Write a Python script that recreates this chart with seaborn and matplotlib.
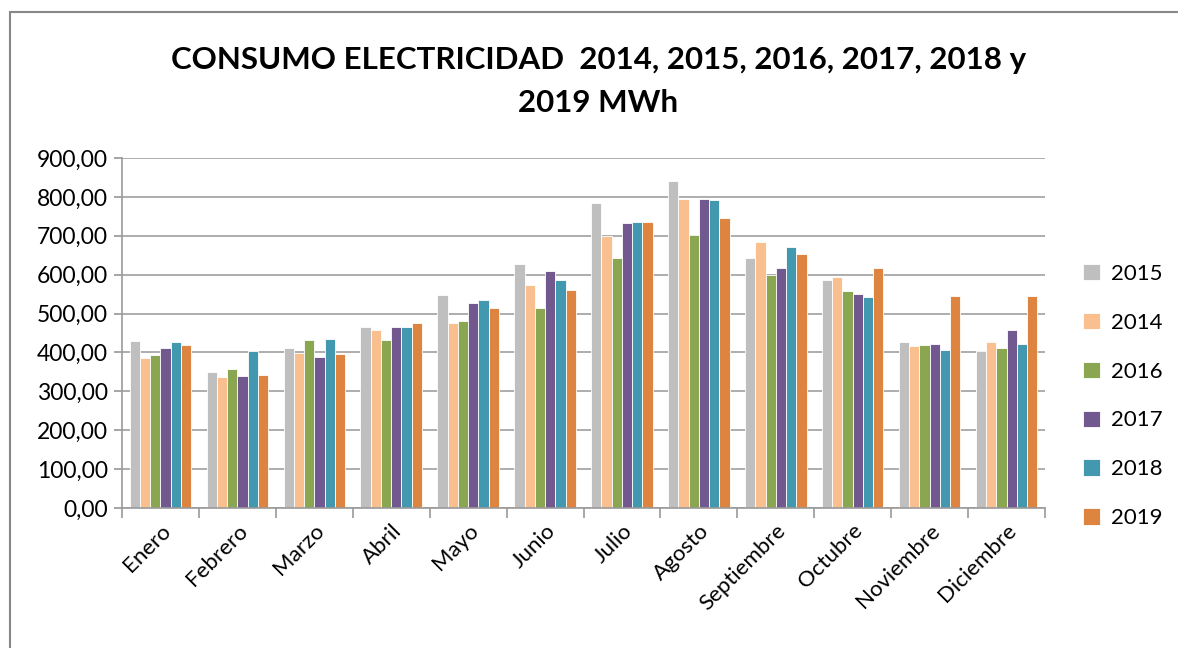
import matplotlib
matplotlib.use("Agg")
import matplotlib.pyplot as plt
import seaborn as sns
import pandas as pd
from matplotlib.ticker import FuncFormatter, FixedLocator
from matplotlib.patches import Rectangle

months = ["Enero", "Febrero", "Marzo", "Abril", "Mayo", "Junio", "Julio",
          "Agosto", "Septiembre", "Octubre", "Noviembre", "Diciembre"]
years = ["2015", "2014", "2016", "2017", "2018", "2019"]
v2015 = [428.6, 349.7, 412.3, 465.4, 547.7, 627.4, 785.1, 840.8, 643.7, 587.1, 426.0, 402.8]
v2014 = [385.7, 336.0, 399.4, 458.6, 475.7, 574.3, 699.4, 795.4, 683.1, 594.0, 415.7, 426.0]
v2016 = [392.6, 356.6, 432.0, 432.0, 481.7, 515.1, 643.7, 702.0, 600.0, 558.0, 419.1, 412.3]
v2017 = [412.3, 339.4, 389.1, 465.4, 528.0, 610.3, 732.8, 795.4, 617.1, 551.1, 422.6, 458.6]
v2018 = [426.0, 402.8, 435.4, 465.4, 534.8, 587.1, 736.3, 792.0, 670.3, 541.7, 406.3, 422.6]
v2019 = [419.0, 342.9, 396.0, 475.7, 515.1, 561.4, 736.3, 745.7, 653.1, 617.1, 545.1, 545.1]
colors = ["#BFBFBF", "#F9BF8F", "#8BA650", "#71588F", "#4298AF", "#DD8440"]

series = [v2015, v2014, v2016, v2017, v2018, v2019]
rows = []
for y, vals in zip(years, series):
    for m, v in zip(months, vals):
        rows.append({"Mes": m, "Año": y, "Valor": v})
df = pd.DataFrame(rows)

sns.set_theme(style="white")
plt.rcParams["font.family"] = ["Lato", "DejaVu Sans"]
plt.rcParams["text.color"] = "black"
plt.rcParams["xtick.color"] = "black"
plt.rcParams["ytick.color"] = "black"

fig = plt.figure(figsize=(11.78, 6.48), dpi=100)
ax = fig.add_axes([122/1178, 1 - 508/648, (1045-122)/1178, (508-158)/648])

sns.barplot(data=df, x="Mes", y="Valor", hue="Año", order=months, hue_order=years,
            palette=colors, saturation=1, width=0.8, ax=ax, legend=True,
            edgecolor="white", linewidth=0.6)

ax.set_ylim(0, 900)
ax.set_xlim(-0.5, 11.5)
ax.set_yticks(range(0, 901, 100))
ax.yaxis.set_major_formatter(FuncFormatter(lambda v, p: f"{v:,.2f}".replace(",", "X").replace(".", ",").replace("X", ".")))
ax.grid(axis="y", color="#A0A0A0", linewidth=1.2)
ax.set_axisbelow(True)
for s in ["top", "right"]:
    ax.spines[s].set_visible(False)
ax.spines["left"].set_color("#9A9A9A")
ax.spines["bottom"].set_color("#9A9A9A")
ax.spines["left"].set_linewidth(1.2)
ax.spines["bottom"].set_linewidth(1.2)

ax.tick_params(axis="y", which="major", left=True, length=6, color="#9A9A9A", labelsize=16.5, pad=4)
ax.tick_params(axis="x", which="major", length=0, labelsize=16, pad=9)
ax.xaxis.set_minor_locator(FixedLocator([i - 0.5 for i in range(13)]))
ax.tick_params(axis="x", which="minor", bottom=True, length=7, color="#9A9A9A", width=1.2)
plt.setp(ax.get_xticklabels(), rotation=45, ha="right", rotation_mode="anchor")
ax.set_xlabel("")
ax.set_ylabel("")

handles, labels = ax.get_legend_handles_labels()
ax.legend(handles, labels, loc="center left", bbox_to_anchor=(1.027, 0.32), frameon=False,
          fontsize=16, handlelength=0.75, handleheight=0.75, labelspacing=1.3,
          handletextpad=0.5, borderaxespad=0.2)

fig.text(0.508, 1 - 60/648, "CONSUMO ELECTRICIDAD  2014, 2015, 2016, 2017, 2018 y", ha="center",
         va="center", fontsize=22.5, fontweight="bold")
fig.text(0.508, 1 - 103/648, "2019 MWh", ha="center", va="center", fontsize=22.5, fontweight="bold")

fig.patches.append(Rectangle((10/1178, -0.01), 1.2, 1 - 12/648 + 0.01, transform=fig.transFigure,
                             fill=False, edgecolor="#888888", linewidth=1.5))

fig.savefig("out.png", dpi=100, facecolor="white")
